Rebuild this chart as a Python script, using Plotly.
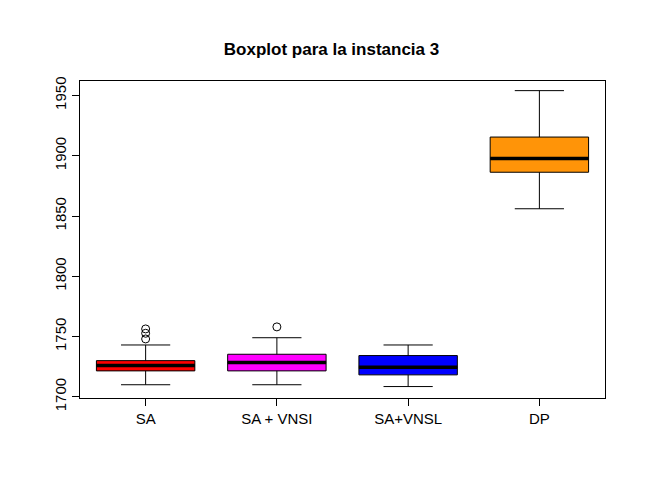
import plotly.graph_objects as go

names = ["SA", "SA + VNSI", "SA+VNSL", "DP"]
colors = ["#ff0000", "#ff00ff", "#0000ff", "#ff9408"]
lower = [1710, 1710, 1708.5, 1856]
q1 = [1721.5, 1721.5, 1718.2, 1886.3]
median = [1726, 1728.4, 1724.6, 1897.6]
q3 = [1730, 1735.3, 1734.2, 1915.5]
upper = [1743, 1749, 1743, 1954]
outlier_x = ["SA", "SA", "SA", "SA + VNSI"]
outlier_y = [1756.3, 1752.7, 1748, 1758]

fig = go.Figure()
for i, n in enumerate(names):
    fig.add_trace(go.Box(x=[i + 1], q1=[q1[i]], median=[median[i]], q3=[q3[i]],
                         lowerfence=[lower[i]], upperfence=[upper[i]],
                         fillcolor=colors[i], line=dict(color="black", width=1),
                         whiskerwidth=0.5, width=0.75, boxpoints=False, showlegend=False))
    # thick median line
    fig.add_trace(go.Scatter(x=[i + 0.625, i + 1.375], y=[median[i], median[i]], mode="lines",
                             line=dict(color="black", width=3.5), showlegend=False, hoverinfo="skip"))

fig.add_trace(go.Scatter(x=[names.index(n) + 1 for n in outlier_x], y=outlier_y, mode="markers",
                         marker=dict(symbol="circle-open", size=8, color="black", line=dict(width=1)),
                         showlegend=False))

fig.update_layout(
    width=647, height=497, plot_bgcolor="white", paper_bgcolor="white",
    margin=dict(l=72, r=50, t=73, b=107),
    font=dict(family="Liberation Sans, Arial", size=15, color="black"),
    title=dict(text="<b>Boxplot para la instancia 3</b>", x=0.5, xanchor="center", y=0.93, font=dict(size=17)),
    xaxis=dict(range=[0.5, 4.5], tickvals=[1, 2, 3, 4], ticktext=names, showline=True, mirror=True,
               linecolor="black", ticks="outside", ticklen=7, tickcolor="black", showgrid=False, zeroline=False),
    yaxis=dict(range=[1699, 1962], tickvals=[1700, 1750, 1800, 1850, 1900, 1950], tickangle=-90,
               showline=True, mirror=True, linecolor="black", ticks="outside", ticklen=7,
               tickcolor="black", showgrid=False, zeroline=False),
)
fig.write_html("out.html")
